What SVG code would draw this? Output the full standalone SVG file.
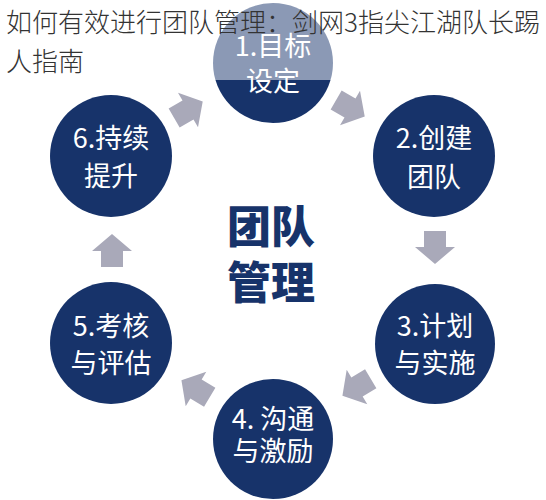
<svg xmlns="http://www.w3.org/2000/svg" width="546" height="500" viewBox="0 0 546 500">
<style>
.c{fill:#17336a}
.t{fill:#ffffff;font-family:"Noto Sans CJK SC","Noto Sans",sans-serif;font-size:27px;text-anchor:middle}
.a{fill:#a9a9b9}
.m{fill:#17336a;font-family:"Noto Sans CJK SC",sans-serif;font-size:44px;font-weight:900;text-anchor:middle}
.h{fill:#333333;font-family:"Noto Sans CJK SC",sans-serif;font-size:26px;font-weight:300}
</style>
<defs>
<polygon id="arr" points="-16,-11 0,-11 0,-20 17,0 0,20 0,11 -16,11"/>
</defs>
<rect width="546" height="500" fill="#ffffff"/>
<g id="connectors">
<use href="#arr" class="a" transform="translate(350,108) rotate(30)"/>
<use href="#arr" class="a" transform="translate(435,247) rotate(90)"/>
<use href="#arr" class="a" transform="translate(357,387) rotate(149)"/>
<use href="#arr" class="a" transform="translate(196,389) rotate(211)"/>
<use href="#arr" class="a" transform="translate(112,251) rotate(-90)"/>
<use href="#arr" class="a" transform="translate(188,110) rotate(-30)"/>
</g>
<g id="n1"><circle class="c" cx="273" cy="63" r="60"/><text class="t" x="273" y="56">1.目标</text><text class="t" x="273" y="91">设定</text></g>
<g id="n2"><circle class="c" cx="434" cy="156" r="61"/><text class="t" x="434" y="148">2.创建</text><text class="t" x="434" y="187">团队</text></g>
<g id="n3"><circle class="c" cx="435" cy="344" r="60"/><text class="t" x="435" y="336">3.计划</text><text class="t" x="435" y="373">与实施</text></g>
<g id="n4"><circle class="c" cx="273" cy="439" r="60"/><text class="t" x="273" y="429">4. 沟通</text><text class="t" x="273" y="461">与激励</text></g>
<g id="n5"><circle class="c" cx="111" cy="343" r="61"/><text class="t" x="111" y="336">5.考核</text><text class="t" x="111" y="373">与评估</text></g>
<g id="n6"><circle class="c" cx="111" cy="156" r="61"/><text class="t" x="111" y="148">6.持续</text><text class="t" x="111" y="186">提升</text></g>
<g id="center"><text class="m" x="271" y="243">团队</text><text class="m" x="271" y="299">管理</text></g>
<rect x="0" y="0" width="546" height="80" fill="#ffffff" fill-opacity="0.5"/>
<g id="title"><text class="h" x="6" y="32">如何有效进行团队管理：剑网3指尖江湖队长踢</text><text class="h" x="6" y="71">人指南</text></g>
</svg>
